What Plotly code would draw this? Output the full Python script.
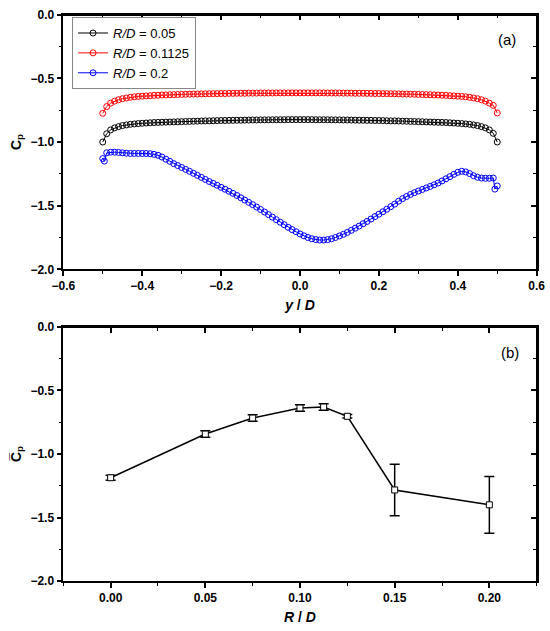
import plotly.graph_objects as go

# ---------------- (a) data ----------------
yd = [-0.50, -0.49, -0.48, -0.47, -0.46, -0.45, -0.44, -0.43, -0.42, -0.41,
      -0.40, -0.39, -0.38, -0.37, -0.36, -0.35, -0.34, -0.33, -0.32, -0.31,
      -0.30, -0.29, -0.28, -0.27, -0.26, -0.25, -0.24, -0.23, -0.22, -0.21,
      -0.20, -0.19, -0.18, -0.17, -0.16, -0.15, -0.14, -0.13, -0.12, -0.11,
      -0.10, -0.09, -0.08, -0.07, -0.06, -0.05, -0.04, -0.03, -0.02, -0.01,
      0.00, 0.01, 0.02, 0.03, 0.04, 0.05, 0.06, 0.07, 0.08, 0.09,
      0.10, 0.11, 0.12, 0.13, 0.14, 0.15, 0.16, 0.17, 0.18, 0.19,
      0.20, 0.21, 0.22, 0.23, 0.24, 0.25, 0.26, 0.27, 0.28, 0.29,
      0.30, 0.31, 0.32, 0.33, 0.34, 0.35, 0.36, 0.37, 0.38, 0.39,
      0.40, 0.41, 0.42, 0.43, 0.44, 0.45, 0.46, 0.47, 0.48, 0.49, 0.50]

cp_005 = [-1.000, -0.935, -0.905, -0.889, -0.879, -0.871, -0.866, -0.861, -0.858, -0.855,
          -0.853, -0.851, -0.849, -0.847, -0.846, -0.845, -0.844, -0.843, -0.842, -0.841,
          -0.840, -0.839, -0.838, -0.837, -0.836, -0.835, -0.834, -0.834, -0.833, -0.832,
          -0.831, -0.831, -0.830, -0.830, -0.829, -0.829, -0.828, -0.828, -0.827, -0.827,
          -0.826, -0.826, -0.826, -0.825, -0.825, -0.825, -0.825, -0.824, -0.824, -0.824,
          -0.824,
          -0.824, -0.824, -0.824, -0.825, -0.825, -0.825, -0.825, -0.826, -0.826,
          -0.826, -0.827, -0.827, -0.828, -0.828, -0.829, -0.829, -0.830, -0.830, -0.831,
          -0.831, -0.832, -0.833, -0.834, -0.834, -0.835, -0.836, -0.837, -0.838, -0.839,
          -0.840, -0.841, -0.842, -0.843, -0.844, -0.845, -0.846, -0.847, -0.849, -0.851,
          -0.853, -0.855, -0.858, -0.861, -0.866, -0.871, -0.879, -0.889, -0.905, -0.932, -1.000]

cp_01125 = [-0.775, -0.722, -0.695, -0.679, -0.668, -0.660, -0.654, -0.649, -0.645, -0.642,
            -0.640, -0.638, -0.636, -0.634, -0.633, -0.631, -0.630, -0.629, -0.628, -0.627,
            -0.626, -0.625, -0.624, -0.623, -0.623, -0.622, -0.621, -0.621, -0.620, -0.620,
            -0.619, -0.619, -0.618, -0.618, -0.617, -0.617, -0.617, -0.616, -0.616, -0.616,
            -0.615, -0.615, -0.615, -0.615, -0.614, -0.614, -0.614, -0.614, -0.614, -0.614,
            -0.614,
            -0.614, -0.614, -0.614, -0.614, -0.614, -0.614, -0.615, -0.615, -0.615,
            -0.615, -0.616, -0.616, -0.616, -0.617, -0.617, -0.617, -0.618, -0.618, -0.619,
            -0.619, -0.620, -0.620, -0.621, -0.621, -0.622, -0.623, -0.623, -0.624, -0.625,
            -0.626, -0.627, -0.628, -0.629, -0.630, -0.631, -0.633, -0.634, -0.636, -0.638,
            -0.640, -0.642, -0.645, -0.649, -0.654, -0.660, -0.668, -0.679, -0.695, -0.712, -0.772]

yd_02 = [-0.50, -0.496, -0.49, -0.48, -0.47, -0.46, -0.45, -0.44, -0.43, -0.42, -0.41,
         -0.40, -0.39, -0.38, -0.37, -0.36, -0.35, -0.34, -0.33, -0.32, -0.31,
         -0.30, -0.29, -0.28, -0.27, -0.26, -0.25, -0.24, -0.23, -0.22, -0.21,
         -0.20, -0.19, -0.18, -0.17, -0.16, -0.15, -0.14, -0.13, -0.12, -0.11,
         -0.10, -0.09, -0.08, -0.07, -0.06, -0.05, -0.04, -0.03, -0.02, -0.01,
         0.00, 0.01, 0.02, 0.03, 0.04, 0.05, 0.06, 0.07, 0.08, 0.09,
         0.10, 0.11, 0.12, 0.13, 0.14, 0.15, 0.16, 0.17, 0.18, 0.19,
         0.20, 0.21, 0.22, 0.23, 0.24, 0.25, 0.26, 0.27, 0.28, 0.29,
         0.30, 0.31, 0.32, 0.33, 0.34, 0.35, 0.36, 0.37, 0.38, 0.39,
         0.40, 0.41, 0.42, 0.43, 0.44, 0.45, 0.46, 0.47, 0.48, 0.49, 0.494, 0.50]

cp_02 = [-1.130, -1.150, -1.085, -1.080, -1.080, -1.082, -1.085, -1.088, -1.090, -1.090, -1.090,
         -1.090, -1.090, -1.092, -1.097, -1.104, -1.118, -1.135, -1.152, -1.170, -1.185,
         -1.200, -1.215, -1.230, -1.246, -1.262, -1.278, -1.294, -1.310, -1.325, -1.340,
         -1.356, -1.371, -1.387, -1.403, -1.420, -1.438, -1.456, -1.474, -1.492, -1.511,
         -1.530, -1.550, -1.570, -1.590, -1.610, -1.630, -1.650, -1.670, -1.688, -1.705,
         -1.722, -1.737, -1.750, -1.760, -1.766, -1.770, -1.770, -1.767, -1.760, -1.750,
         -1.738, -1.725, -1.710, -1.694, -1.677, -1.660, -1.642, -1.624, -1.605, -1.586,
         -1.567, -1.548, -1.528, -1.508, -1.488, -1.465, -1.445, -1.428, -1.412, -1.398,
         -1.385, -1.373, -1.361, -1.349, -1.336, -1.322, -1.306, -1.289, -1.272, -1.254,
         -1.238, -1.230, -1.235, -1.248, -1.265, -1.277, -1.283, -1.285, -1.285, -1.283, -1.370, -1.345]

# ---------------- (b) data ----------------
rd = [0.0, 0.05, 0.075, 0.10, 0.1125, 0.125, 0.15, 0.20]
cp_mean = [-1.187, -0.843, -0.717, -0.638, -0.630, -0.703, -1.283, -1.400]
cp_err = [0.020, 0.026, 0.026, 0.025, 0.025, 0.014, 0.203, 0.223]

FONT = "Liberation Sans, Arial, sans-serif"

XD = [0.1151, 0.9758]
YA = [0.5732, 0.9767]
YB = [0.0792, 0.4818]

fig = go.Figure()

# invisible traces so the frame axes (top/right, inside ticks) get drawn
fig.add_trace(go.Scatter(x=[0.0], y=[-1.0], xaxis="x3", yaxis="y", mode="markers",
                         marker=dict(opacity=0), showlegend=False, hoverinfo="skip"))
fig.add_trace(go.Scatter(x=[0.0], y=[-1.0], xaxis="x", yaxis="y3", mode="markers",
                         marker=dict(opacity=0), showlegend=False, hoverinfo="skip"))
fig.add_trace(go.Scatter(x=[0.1], y=[-1.0], xaxis="x4", yaxis="y2", mode="markers",
                         marker=dict(opacity=0), showlegend=False, hoverinfo="skip"))
fig.add_trace(go.Scatter(x=[0.1], y=[-1.0], xaxis="x2", yaxis="y4", mode="markers",
                         marker=dict(opacity=0), showlegend=False, hoverinfo="skip"))

series = [
    (yd, cp_005, "<i>R/D</i> = 0.05", "black"),
    (yd, cp_01125, "<i>R/D</i> = 0.1125", "red"),
    (yd_02, cp_02, "<i>R/D</i> = 0.2", "blue"),
]
for xs, ys, name, col in series:
    fig.add_trace(go.Scatter(
        x=xs, y=ys, name=name, mode="lines+markers",
        line=dict(color=col, width=1),
        marker=dict(symbol="circle-open", size=6, color=col, line=dict(width=1, color=col)),
        xaxis="x", yaxis="y"))

fig.add_trace(go.Scatter(
    x=rd, y=cp_mean, mode="lines+markers", showlegend=False,
    line=dict(color="black", width=1.5),
    marker=dict(symbol="square", size=6, color="white", line=dict(width=1, color="black")),
    error_y=dict(type="data", array=cp_err, visible=True, color="black", thickness=1.5, width=5),
    xaxis="x2", yaxis="y2"))

tickfont = dict(family=FONT, size=12, color="black", weight="bold")
titlefont = dict(family=FONT, size=14, color="black")
common = dict(showline=True, linecolor="black", linewidth=1.5, showgrid=False, mirror=True,
              zeroline=False, ticks="outside", ticklen=5, tickwidth=1.5, tickcolor="black",
              tickfont=tickfont, automargin=False)
common_in = dict(showline=True, linecolor="black", linewidth=1.5, showgrid=False,
                 zeroline=False, ticks="inside", ticklen=5, tickwidth=1.5, tickcolor="black",
                 showticklabels=False, automargin=False, anchor="free")

minor_out = dict(ticks="outside", ticklen=3, tickwidth=1, tickcolor="black")
minor_in = dict(ticks="inside", ticklen=3, tickwidth=1, tickcolor="black")

fig.update_layout(
    width=550, height=631,
    margin=dict(l=0, r=0, t=0, b=0, autoexpand=False),
    paper_bgcolor="white", plot_bgcolor="rgba(0,0,0,0)",
    font=dict(family=FONT, color="black"),
    xaxis=dict(domain=XD, anchor="y", range=[-0.6, 0.6], dtick=0.2, tick0=0,
               tickformat=".1f", minor=dict(dtick=0.1, **minor_out),
               title=dict(text="<b><i>y</i> / <i>D</i></b>", font=titlefont, standoff=8),
               **common),
    yaxis=dict(domain=YA, anchor="x", range=[-2.0, 0.0], dtick=0.5, tickformat=".1f",
               minor=dict(dtick=0.25, **minor_out),
               title=dict(text="<b>C<sub>p</sub></b>", font=titlefont, standoff=6), **common),
    xaxis3=dict(domain=XD, position=YA[1], side="top", range=[-0.6, 0.6], dtick=0.2, tick0=0,
                minor=dict(dtick=0.1, **minor_in), **common_in),
    yaxis3=dict(domain=YA, position=XD[1], side="right", range=[-2.0, 0.0], dtick=0.5,
                minor=dict(dtick=0.25, **minor_in), **common_in),
    xaxis2=dict(domain=XD, anchor="y2", range=[-0.025, 0.225], dtick=0.05, tick0=0,
                tickformat=".2f", minor=dict(dtick=0.025, **minor_out),
                title=dict(text="<b><i>R</i> / <i>D</i></b>", font=titlefont, standoff=8),
                **common),
    yaxis2=dict(domain=YB, anchor="x2", range=[-2.0, 0.0], dtick=0.5, tickformat=".1f",
                minor=dict(dtick=0.25, **minor_out),
                title=dict(text="<b>C\u0305<sub>p</sub></b>", font=titlefont, standoff=6),
                **common),
    xaxis4=dict(domain=XD, position=YB[1], side="top", range=[-0.025, 0.225], dtick=0.05,
                tick0=0, minor=dict(dtick=0.025, **minor_in), **common_in),
    yaxis4=dict(domain=YB, position=XD[1], side="right", range=[-2.0, 0.0], dtick=0.5,
                minor=dict(dtick=0.25, **minor_in), **common_in),
    legend=dict(x=0.131, y=0.973, xanchor="left", yanchor="top",
                bordercolor="#888888", borderwidth=1, bgcolor="white",
                font=dict(family=FONT, size=13, color="black"),
                itemwidth=30, tracegroupgap=0),
    annotations=[
        dict(text="(a)", x=507 / 550, y=1 - 40 / 631, xref="paper", yref="paper", showarrow=False,
             font=dict(family=FONT, size=15, color="black"), xanchor="center", yanchor="middle"),
        dict(text="(b)", x=510 / 550, y=1 - 352 / 631, xref="paper", yref="paper", showarrow=False,
             font=dict(family=FONT, size=15, color="black"), xanchor="center", yanchor="middle"),
    ],
)

fig.write_html("out.html", config={"displayModeBar": False},
               post_script="document.body.style.margin='0';document.body.style.padding='0';")
